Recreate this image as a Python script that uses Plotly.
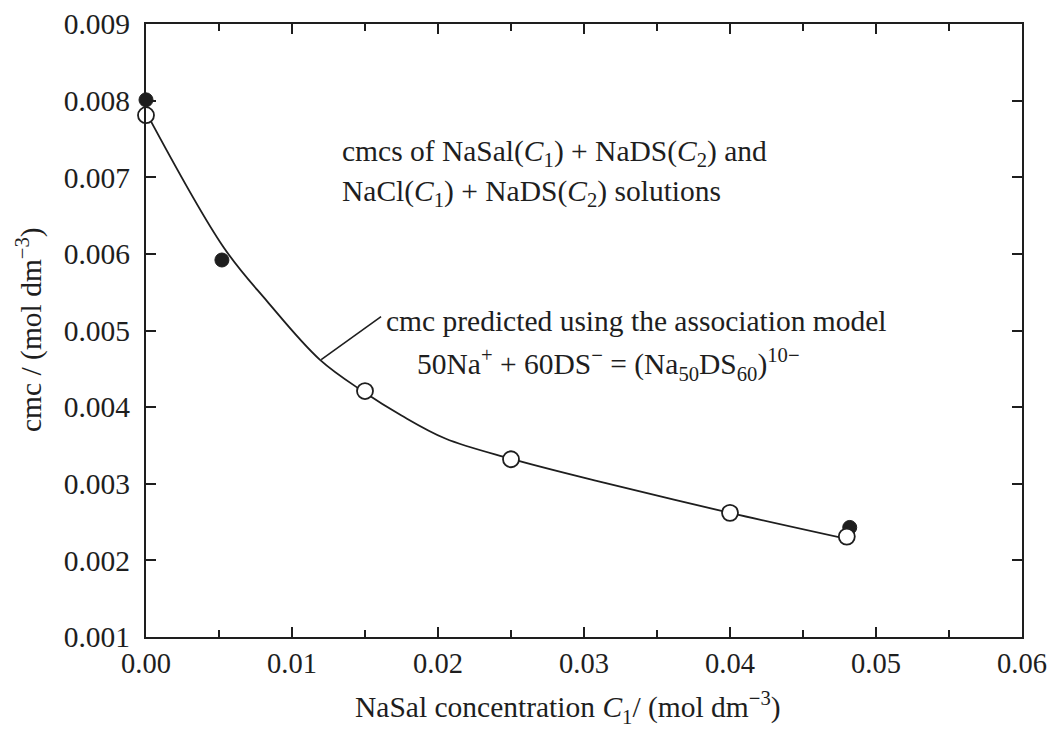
import plotly.graph_objects as go

# Data
nasal_x = [0.0, 0.0052, 0.0482]
nasal_y = [0.00801, 0.00592, 0.00243]

nacl_x = [0.0, 0.015, 0.025, 0.040, 0.048]
nacl_y = [0.00781, 0.00421, 0.00332, 0.00262, 0.00231]

model_x = [0.0, 0.0053, 0.0083, 0.0119, 0.0149, 0.0175, 0.0205, 0.0249, 0.031, 0.040, 0.048]
model_y = [0.00785, 0.00609, 0.00538, 0.00462, 0.00420, 0.00389, 0.00359, 0.00333, 0.00303, 0.00262, 0.00228]

x_ticks = [0.00, 0.01, 0.02, 0.03, 0.04, 0.05, 0.06]
x_ticklabels = ["0.00", "0.01", "0.02", "0.03", "0.04", "0.05", "0.06"]
y_ticks = [0.001, 0.002, 0.003, 0.004, 0.005, 0.006, 0.007, 0.008, 0.009]
y_ticklabels = ["0.001", "0.002", "0.003", "0.004", "0.005", "0.006", "0.007", "0.008", "0.009"]

FONT = "Liberation Serif, Times New Roman, serif"
INK = "#1e1e1e"

fig = go.Figure()
fig.add_trace(go.Scatter(x=model_x, y=model_y, mode="lines",
                         line=dict(color=INK, width=1.8, shape="spline", smoothing=1.0),
                         showlegend=False, hoverinfo="skip"))
fig.add_trace(go.Scatter(x=nasal_x, y=nasal_y, mode="markers",
                         marker=dict(size=14, color=INK, line=dict(color=INK, width=1)),
                         showlegend=False, cliponaxis=False))
fig.add_trace(go.Scatter(x=nacl_x, y=nacl_y, mode="markers",
                         marker=dict(size=16, color="white", line=dict(color=INK, width=1.8)),
                         showlegend=False, cliponaxis=False))

# leader line for model annotation
fig.add_shape(type="line", x0=0.0120, y0=0.00462, x1=0.0161, y1=0.00518,
              line=dict(color=INK, width=1.6), xref="x", yref="y")

ann_font = dict(family=FONT, size=29.5, color=INK)
fig.add_annotation(x=0.0133, y=0.00732, xref="x", yref="y", xanchor="left", yanchor="middle",
                   text="cmcs of NaSal(<i>C</i><sub>1</sub>) + NaDS(<i>C</i><sub>2</sub>) and",
                   showarrow=False, font=ann_font)
fig.add_annotation(x=0.0133, y=0.00679, xref="x", yref="y", xanchor="left", yanchor="middle",
                   text="NaCl(<i>C</i><sub>1</sub>) + NaDS(<i>C</i><sub>2</sub>) solutions",
                   showarrow=False, font=ann_font)
fig.add_annotation(x=0.0163, y=0.00512, xref="x", yref="y", xanchor="left", yanchor="middle",
                   text="cmc predicted using the association model",
                   showarrow=False, font=ann_font)
fig.add_annotation(x=0.0184, y=0.00455, xref="x", yref="y", xanchor="left", yanchor="middle",
                   text="50Na<sup>+</sup> + 60DS<sup>−</sup> = (Na<sub>50</sub>DS<sub>60</sub>)<sup>10−</sup>",
                   showarrow=False, font=ann_font)

# axis titles
fig.add_annotation(x=(568 - 146) / 876, y=-(707 - 637) / 613, xref="paper", yref="paper",
                   xanchor="center", yanchor="middle", showarrow=False,
                   text="NaSal concentration <i>C</i><sub>1</sub>/ (mol dm<sup>−3</sup>)",
                   font=dict(family=FONT, size=29.5, color=INK))
fig.add_annotation(x=(30 - 146) / 876, y=1 - (330 - 24) / 613, xref="paper", yref="paper",
                   xanchor="center", yanchor="middle", showarrow=False, textangle=-90,
                   text="cmc / (mol dm<sup>−3</sup>)",
                   font=dict(family=FONT, size=29.5, color=INK))

fig.update_layout(
    width=1047, height=746,
    margin=dict(l=146, r=25, t=24, b=109),
    plot_bgcolor="white", paper_bgcolor="white",
    font=dict(family=FONT, size=29, color=INK),
)
fig.update_xaxes(range=[0, 0.06], tickvals=x_ticks, ticktext=x_ticklabels, automargin=False,
                 ticklabeloverflow="allow",
                 showgrid=False, zeroline=False, showline=True, linecolor=INK, linewidth=2,
                 mirror="ticks", ticks="inside", ticklen=10, tickwidth=2, tickcolor=INK,
                 minor=dict(dtick=0.005, ticks="inside", ticklen=7, tickwidth=2, tickcolor=INK, showgrid=False),
                 tickfont=dict(family=FONT, size=28.5, color=INK))
fig.update_yaxes(range=[0.001, 0.009], tickvals=y_ticks, ticktext=y_ticklabels, automargin=False,
                 ticklabeloverflow="allow", ticklabelstandoff=8,
                 showgrid=False, zeroline=False, showline=True, linecolor=INK, linewidth=2,
                 mirror="ticks", ticks="inside", ticklen=10, tickwidth=2, tickcolor=INK,
                 tickfont=dict(family=FONT, size=29.5, color=INK))

fig.write_html("out.html")
